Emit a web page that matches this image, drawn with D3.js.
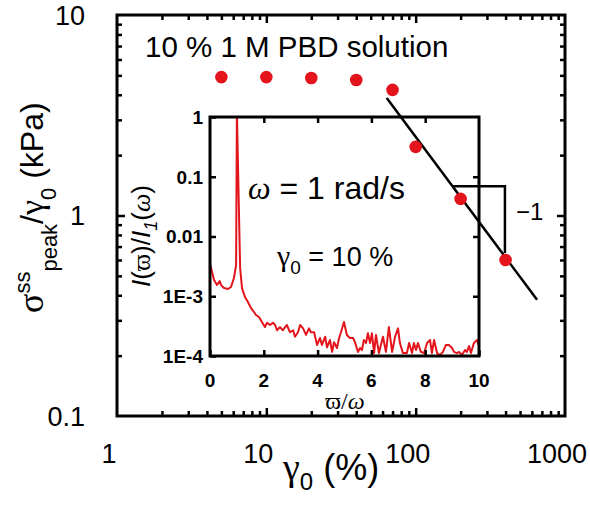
<!DOCTYPE html>
<html><head><meta charset="utf-8">
<script src="https://cdn.jsdelivr.net/npm/d3@7/dist/d3.min.js"></script>
<style>
body{margin:0;background:#fff}
svg{display:block}
text{font-family:"Liberation Sans",Arial,sans-serif;fill:#000}
.gr{font-family:"Liberation Serif","Times New Roman",serif}
</style>
</head><body>
<svg id="c" width="590" height="506"></svg>
<script>
// ---- main chart data ----
const gamma0 = [5, 10, 20, 40, 70, 100, 200, 400];
const sigmaPeak = [4.9, 4.9, 4.85, 4.74, 4.23, 2.2, 1.21, 0.6];
const fitGamma = [64, 650];
const fitSigma = [3.86, 0.38];
const triGamma = [177, 396, 396];
const triSigma = [1.40, 1.40, 0.65];
const xTickValues = [1, 10, 100, 1000];
const xTickLabels = ["1", "10", "100", "1000"];
const yTickValues = [0.1, 1, 10];
const yTickLabels = ["0.1", "1", "10"];
const titleText = "10 % 1 M PBD solution";
const slopeLabel = "\u22121";

// ---- inset data (FT spectrum) ----
const insetX = [0, 0.15, 0.26, 0.36, 0.41, 0.52, 0.67, 0.78, 0.89, 0.97, 1.0, 1.12, 1.19, 1.30, 1.41,
  1.52, 1.64, 1.71, 1.82, 1.93, 2.04, 2.12, 2.23, 2.34, 2.42, 2.49, 2.60, 2.71, 2.79, 2.86, 2.97,
  3.09, 3.16, 3.27, 3.35, 3.46, 3.57, 3.68, 3.75, 3.87, 3.98, 4.09, 4.16, 4.28, 4.35, 4.46, 4.54,
  4.61, 4.72, 4.80, 4.87, 4.98, 5.09, 5.20, 5.32, 5.39, 5.50, 5.58, 5.65, 5.72, 5.80, 5.87, 5.95,
  6.02, 6.10, 6.17, 6.28, 6.43, 6.54, 6.65, 6.77, 6.88, 6.99, 7.06, 7.17, 7.32, 7.40, 7.51, 7.58,
  7.66, 7.73, 7.84, 7.96, 8.07, 8.18, 8.25, 8.33, 8.44, 8.55, 8.66, 8.77, 8.88, 9.00, 9.07, 9.18,
  9.26, 9.37, 9.48, 9.55, 9.63, 9.70, 9.81, 9.93, 10.0];
const insetI = [3.5e-3, 1.87e-3, 1.54e-3, 1.8e-3, 1.54e-3, 1.37e-3, 1.32e-3, 1.43e-3, 2.02e-3, 3.3e-3, 1.2, 3.0e-3, 1.37e-3, 9.7e-4, 8.0e-4,
  6.4e-4, 5.4e-4, 4.85e-4, 4.5e-4, 3.7e-4, 3.05e-4, 3.6e-4, 3.3e-4, 3.6e-4, 3.3e-4, 2.7e-4, 3.05e-4, 2.7e-4, 3.05e-4, 3.3e-4, 2.5e-4,
  2.7e-4, 2.1e-4, 2.5e-4, 3.3e-4, 2.9e-4, 2.25e-4, 2.9e-4, 2.5e-4, 2.5e-4, 1.53e-4, 2.0e-4, 1.53e-4, 2.1e-4, 1.4e-4, 1.85e-4, 1.17e-4,
  1.7e-4, 1.36e-4, 2.0e-4, 2.5e-4, 3.7e-4, 2.25e-4, 2.0e-4, 2.0e-4, 1.7e-4, 1.17e-4, 1.36e-4, 1.26e-4, 1.85e-4, 1.65e-4, 2.4e-4, 1.65e-4,
  2.4e-4, 1.12e-4, 2.25e-4, 1.12e-4, 2.1e-4, 1.17e-4, 3.05e-4, 1.17e-4, 2.1e-4, 2.9e-4, 1.65e-4, 1.12e-4, 1.12e-4, 1.65e-4, 1.12e-4, 1.65e-4,
  1.26e-4, 1.65e-4, 1.17e-4, 1.12e-4, 1.65e-4, 1.85e-4, 1.12e-4, 1.85e-4, 1.12e-4, 1.04e-4, 1.17e-4, 1.53e-4, 1.53e-4, 1.36e-4, 1.17e-4, 1.12e-4,
  1.17e-4, 1.04e-4, 1.26e-4, 1.17e-4, 1.47e-4, 1.12e-4, 1.65e-4, 1.85e-4, 1.47e-4];
const insetXTicks = [0, 2, 4, 6, 8, 10];
const insetXTickLabels = ["0", "2", "4", "6", "8", "10"];
const insetYTicks = [1e-4, 1e-3, 1e-2, 1e-1, 1];
const insetYTickLabels = ["1E-4", "1E-3", "0.01", "0.1", "1"];

const RED = "#e3141b";
const svg = d3.select("#c");

// ---------- main plot ----------
const x = d3.scaleLog().domain([1, 1000]).range([117, 565]);
const y = d3.scaleLog().domain([0.1, 10]).range([416, 15]);
const minorX = [], minorY = [];
[1, 10, 100].forEach(d => { for (let k = 2; k <= 9; k++) minorX.push(d * k); });
[0.1, 1].forEach(d => { for (let k = 2; k <= 9; k++) minorY.push(d * k); });

function tickAxis(axisFn, scale, vals, size, tr) {
  const g = svg.append("g").attr("transform", tr)
    .call(axisFn(scale).tickValues(vals).tickSize(size).tickSizeOuter(0).tickFormat(""));
  g.select(".domain").remove();
  g.selectAll("line").attr("stroke", "#000").attr("stroke-width", 2.5);
  return g;
}
[[d3.axisBottom, x, "translate(0,416)"], [d3.axisTop, x, "translate(0,15)"]].forEach(([f, s, t]) => {
  tickAxis(f, s, [10, 100], -8, t);
  tickAxis(f, s, minorX, -5, t);
});
[[d3.axisLeft, y, "translate(117,0)"], [d3.axisRight, y, "translate(565,0)"]].forEach(([f, s, t]) => {
  tickAxis(f, s, [1], -8, t);
  tickAxis(f, s, minorY, -5, t);
});
svg.append("rect").attr("x", 117).attr("y", 15).attr("width", 448).attr("height", 401)
  .attr("fill", "none").attr("stroke", "#000").attr("stroke-width", 3);

svg.append("g").selectAll("text").data(xTickValues).join("text")
  .attr("x", d => x(d) - 8).attr("y", 463).attr("text-anchor", "middle")
  .style("font-size", "27px").text((d, i) => xTickLabels[i]);
svg.append("g").selectAll("text").data(yTickValues).join("text")
  .attr("x", 85).attr("y", d => y(d)).attr("dy", "0.36em").attr("text-anchor", "end")
  .style("font-size", "27px").text((d, i) => yTickLabels[i]);

// axis titles
const xl = svg.append("text").attr("x", 283).attr("y", 480).style("font-size", "36px");
xl.append("tspan").attr("class", "gr").style("font-size", "38px").text("\u03b3");
xl.append("tspan").attr("dy", 10).style("font-size", "24px").text("0");
xl.append("tspan").attr("dy", -10).text(" (%)");

const yl = svg.append("text").attr("transform", "translate(43,313) rotate(-90)").style("font-size", "32px");
yl.append("tspan").attr("class", "gr").style("font-size", "36px").text("\u03c3");
yl.append("tspan").attr("dy", -13).style("font-size", "22px").text("ss");
yl.append("tspan").attr("dy", 27).style("font-size", "22px").text("peak");
yl.append("tspan").attr("dy", -14).text("/");
yl.append("tspan").attr("class", "gr").style("font-size", "34px").text("\u03b3");
yl.append("tspan").attr("dy", 13).style("font-size", "22px").text("0");
yl.append("tspan").attr("dy", -13).text(" (kPa)");

svg.append("text").attr("x", 145).attr("y", 57).style("font-size", "29.5px").text(titleText);

// ---------- inset ----------
const xi = d3.scaleLinear().domain([0, 10]).range([210, 479]);
const yi = d3.scaleLog().domain([1e-4, 1]).range([356, 117]);
svg.append("clipPath").attr("id", "ic").append("rect")
  .attr("x", 210).attr("y", 117).attr("width", 269).attr("height", 239);
svg.append("path").datum(insetX.map((d, i) => [d, insetI[i]]))
  .attr("clip-path", "url(#ic)")
  .attr("fill", "none").attr("stroke", RED).attr("stroke-width", 2).attr("stroke-linejoin", "round")
  .attr("d", d3.line().x(d => xi(d[0])).y(d => yi(d[1])));

tickAxis(d3.axisBottom, xi, insetXTicks, -6, "translate(0,356)");
tickAxis(d3.axisTop, xi, [2, 4, 6, 8], -6, "translate(0,117)");
tickAxis(d3.axisLeft, yi, insetYTicks, -6, "translate(210,0)");
tickAxis(d3.axisRight, yi, [1e-3, 1e-2, 1e-1], -6, "translate(479,0)");
svg.append("rect").attr("x", 210).attr("y", 117).attr("width", 269).attr("height", 239)
  .attr("fill", "none").attr("stroke", "#000").attr("stroke-width", 3);

svg.append("g").selectAll("text").data(insetXTicks).join("text")
  .attr("x", xi).attr("y", 387).attr("text-anchor", "middle")
  .style("font-size", "19px").style("font-weight", "bold").text((d, i) => insetXTickLabels[i]);
svg.append("g").selectAll("text").data(insetYTicks).join("text")
  .attr("x", 203).attr("y", yi).attr("dy", "0.36em").attr("text-anchor", "end")
  .style("font-size", "19px").style("font-weight", "bold").text((d, i) => insetYTickLabels[i]);

const il = svg.append("text").attr("transform", "translate(150,236) rotate(-90)")
  .attr("text-anchor", "middle").style("font-size", "26px");
il.append("tspan").style("font-style", "italic").text("I");
il.append("tspan").text("(");
il.append("tspan").attr("class", "gr").text("\u03d6");
il.append("tspan").text(")/");
il.append("tspan").style("font-style", "italic").text("I");
il.append("tspan").attr("dy", 7).style("font-size", "18px").style("font-style", "italic").text("1");
il.append("tspan").attr("dy", -7).text("(");
il.append("tspan").attr("class", "gr").style("font-style", "italic").text("\u03c9");
il.append("tspan").text(")");

const ixl = svg.append("text").attr("x", 345).attr("y", 409).attr("text-anchor", "middle")
  .attr("class", "gr").style("font-size", "24px");
ixl.append("tspan").text("\u03d6/");
ixl.append("tspan").style("font-style", "italic").text("\u03c9");

const wt = svg.append("text").attr("x", 248).attr("y", 199).style("font-size", "32px");
wt.append("tspan").attr("class", "gr").style("font-style", "italic").text("\u03c9");
wt.append("tspan").text(" = 1 rad/s");

const gt = svg.append("text").attr("x", 277).attr("y", 266).style("font-size", "27px");
gt.append("tspan").attr("class", "gr").style("font-size", "30px").text("\u03b3");
gt.append("tspan").attr("dy", 8).style("font-size", "19px").text("0");
gt.append("tspan").attr("dy", -8).text(" = 10 %");

// ---------- main data marks ----------
svg.append("path").datum(fitGamma.map((d, i) => [d, fitSigma[i]]))
  .attr("fill", "none").attr("stroke", "#000").attr("stroke-width", 2.5)
  .attr("d", d3.line().x(d => x(d[0])).y(d => y(d[1])));
svg.append("path").datum(triGamma.map((d, i) => [d, triSigma[i]]))
  .attr("fill", "none").attr("stroke", "#000").attr("stroke-width", 2.5)
  .attr("d", d3.line().x(d => x(d[0])).y(d => y(d[1])));
svg.append("text").attr("x", 516).attr("y", 220).style("font-size", "24px").text(slopeLabel);

svg.append("g").selectAll("circle").data(gamma0).join("circle")
  .attr("cx", d => x(d)).attr("cy", (d, i) => y(sigmaPeak[i])).attr("r", 6.3)
  .attr("fill", RED);
</script>
</body></html>
